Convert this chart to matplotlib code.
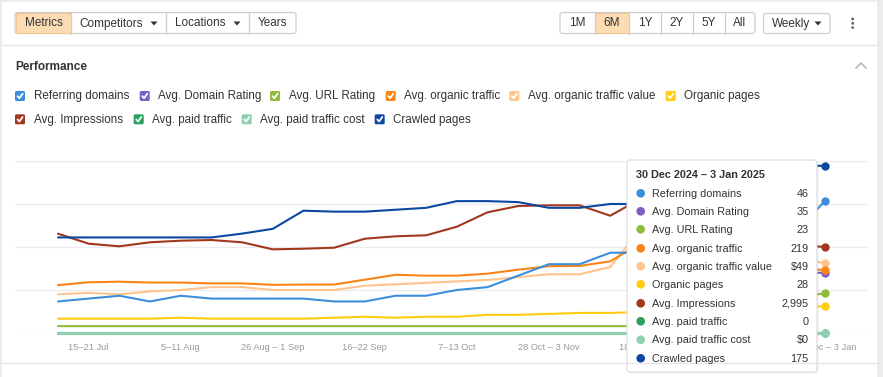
import matplotlib.pyplot as plt
import numpy as np
from matplotlib.patches import FancyBboxPatch, Rectangle, Circle, Polygon

plt.rcParams["font.family"] = ["Liberation Sans", "DejaVu Sans"]

# ---- data -------------------------------------------------------------
weeks = [
    "8–14 Jul", "15–21 Jul", "22–28 Jul", "29 Jul – 4 Aug", "5–11 Aug",
    "12–18 Aug", "19–25 Aug", "26 Aug – 1 Sep", "2–8 Sep", "9–15 Sep",
    "16–22 Sep", "23–29 Sep", "30 Sep – 6 Oct", "7–13 Oct", "14–20 Oct",
    "21–27 Oct", "28 Oct – 3 Nov", "4–10 Nov", "11–17 Nov", "18–24 Nov",
    "25 Nov – 1 Dec", "2–8 Dec", "9–15 Dec", "16–22 Dec", "23–29 Dec",
    "30 Dec – 3 Jan",
]
tooltip_title = "30 Dec 2024 – 3 Jan 2025"

referring_domains = [11, 12, 13, 11, 13, 12, 12, 12, 12, 11, 11, 13, 13,
                     15, 16, 20, 24, 24, 28, 28, 30, 31, 33, 34, 35, 46]
domain_rating = [None] * 22 + [33, 34, 35, 35]
url_rating = [4, 4, 4, 4, 4, 4, 4, 4, 4, 4, 4, 4, 4,
              4, 4, 4, 4, 4, 4, 4, 8, 12, 16, 19, 21, 23]
organic_traffic = [167, 177, 179, 176, 176, 173, 173, 168, 169, 169, 186, 203, 200,
                   200, 207, 221, 233, 234, 250, 314, 300, 280, 260, 240, 228, 219]
traffic_value = [27, 28, 27, 29, 30, 32, 32, 30, 30, 30, 33, 34, 35,
                 36, 37, 39, 41, 41, 46, 73, 68, 62, 57, 53, 51, 49]
organic_pages = [15, 15, 15, 15, 16, 15, 15, 15, 15, 16, 17, 16, 17,
                 17, 19, 19, 20, 21, 21, 22, 24, 25, 26, 27, 27, 28]
impressions = [3464, 3115, 3024, 3164, 3220, 3244, 3164, 2919, 2940, 2975, 3289, 3373, 3408,
               3708, 4210, 4430, 4454, 4454, 4091, 4690, 4400, 4000, 3600, 3300, 3100, 2995]
paid_traffic = [0] * 26
paid_traffic_cost = [0] * 26
crawled_pages = [100, 100, 100, 100, 100, 100, 104, 109, 128, 127, 127, 129, 131,
                 138, 138, 137, 131, 131, 135, 135, 140, 155, 165, 172, 175, 175]

# each metric has its own hidden y axis (0 .. max)
metrics = [
    ("Referring domains", referring_domains, 60, "#3d8fdc", "{:,.0f}"),
    ("Avg. Domain Rating", domain_rating, 100, "#7a5fc6", "{:,.0f}"),
    ("Avg. URL Rating", url_rating, 100, "#8dbb3c", "{:,.0f}"),
    ("Avg. organic traffic", organic_traffic, 600, "#fb8416", "{:,.0f}"),
    ("Avg. organic traffic value", traffic_value, 120, "#ffc48c", "${:,.0f}"),
    ("Organic pages", organic_pages, 180, "#ffcc11", "{:,.0f}"),
    ("Avg. Impressions", impressions, 6000, "#a1381d", "{:,.0f}"),
    ("Avg. paid traffic", paid_traffic, 1, "#2a9f5e", "{:,.0f}"),
    ("Avg. paid traffic cost", paid_traffic_cost, 1, "#8dd1ae", "${:,.0f}"),
    ("Crawled pages", crawled_pages, 180, "#0c47a1", "{:,.0f}"),
]
draw_order = [1, 2, 7, 8, 5, 4, 3, 0, 6, 9]

W, H = 883, 377
fig = plt.figure(figsize=(W / 100, H / 100), dpi=100)
fig.patch.set_facecolor("white")

# ---- chart --------------------------------------------------------------
ax = fig.add_axes([15 / W, (H - 333) / H, 853 / W, 172 / H])
x = np.arange(len(weeks))
pad = 43 / 30.68
ax.set_xlim(-pad, len(weeks) - 1 + pad)
ax.set_ylim(0, 1)
for i in draw_order:
    name, vals, vmax, color, fmt = metrics[i]
    y = np.array([np.nan if v is None else v for v in vals], dtype=float) / vmax
    lw = 2.2 if vmax == 1 else 1.5
    z = draw_order.index(i) * 0.1
    ax.plot(x, y, color=color, lw=lw, zorder=3 + z, solid_capstyle="round", clip_on=False)
    ax.plot(x[-1], y[-1], "o", color=color, ms=6, mec="none", zorder=4 + z, clip_on=False)
for g in [0.25, 0.5, 0.75, 1.0]:
    ax.axhline(g, color="#ececec", lw=1, zorder=1)
ax.axhline(0, color="#e4e4e4", lw=1, zorder=1)
ax.set_xticks(x[1::3])
ax.set_xticklabels(weeks[1::3], fontsize=6.7, color="#9a9a9a")
ax.tick_params(axis="x", length=0, pad=7)
ax.set_yticks([])
for s in ax.spines.values():
    s.set_visible(False)

# ---- page overlay (pixel coordinates) ------------------------------------
ov = fig.add_axes([0, 0, 1, 1], zorder=10)
ov.set_xlim(0, W)
ov.set_ylim(H, 0)
ov.axis("off")
ov.patch.set_alpha(0)

# page frame
ov.add_patch(Rectangle((0, 0), W, 2, fc="#ececec", ec="none"))
ov.add_patch(Rectangle((0, 0), 2, H, fc="#ececec", ec="none"))
ov.add_patch(Rectangle((877, 0), 6, H, fc="#ececec", ec="none"))
ov.plot([2, 877], [44.5, 44.5], color="#e6e6e6", lw=1)
ov.plot([2, 877], [362.5, 362.5], color="#e6e6e6", lw=1)

TXT = "#333333"
ORANGE_FILL = "#fddcb4"
ORANGE_EDGE = "#f3c391"
UI_FS = 8.5


def button_group(x0, edges, labels, centers, selected, y0=12.5, y1=33.5):
    ov.add_patch(FancyBboxPatch((x0, y0), edges[-1] - x0, y1 - y0,
                                boxstyle="round,pad=0,rounding_size=2.5",
                                fc="white", ec="#cfcfcf", lw=0.9))
    left = x0
    for k, right in enumerate(edges):
        if k == selected:
            ov.add_patch(Rectangle((left + 0.5, y0 + 0.5), right - left - 1, y1 - y0 - 1,
                                   fc=ORANGE_FILL, ec=ORANGE_EDGE, lw=0.8))
        if k < len(edges) - 1:
            ov.plot([right, right], [y0, y1], color="#cfcfcf", lw=0.9)
        ov.text(centers[k], (y0 + y1) / 2 + 0.5, labels[k], fontsize=UI_FS, color=TXT,
                ha="center", va="center")
        left = right


def caret(cx, cy):
    ov.add_patch(Polygon([(cx - 3.5, cy - 2), (cx + 3.5, cy - 2), (cx, cy + 2)],
                         closed=True, fc="#333333", ec="none"))


button_group(15, [71, 166, 249, 296], ["Metrics", "Competitors", "Locations", "Years"],
             [43.5, 111, 200.5, 272.5], selected=0)
caret(154, 23.5)
caret(237, 23.5)
button_group(560, [594.5, 629, 661, 692.5, 725, 755], ["1M", "6M", "1Y", "2Y", "5Y", "All"],
             [577.5, 611.5, 645, 676.5, 708.5, 740], selected=1)
ov.add_patch(FancyBboxPatch((763.5, 13.5), 66.5, 20, boxstyle="round,pad=0,rounding_size=2.5",
                            fc="white", ec="#cfcfcf", lw=0.9))
ov.text(791, 24, "Weekly", fontsize=UI_FS, color=TXT, ha="center", va="center")
caret(818, 23.5)
for dy in (19, 23.3, 27.6):
    ov.add_patch(Circle((852.7, dy), 1.4, fc="#666666", ec="none"))

ov.text(15.5, 67, "Performance", fontsize=8.5, fontweight="bold", color=TXT, va="center")
ov.plot([856, 861, 866], [68, 63, 68], color="#b5b5b5", lw=1.1)

# legend with check boxes
legend_pos = [
    (15, 96), (139.7, 96), (270, 96), (385.7, 96), (509.3, 96), (665.7, 96),
    (15, 119.3), (133.7, 119.3), (241.7, 119.3), (374.7, 119.3),
]
for (lx, ly), (name, vals, vmax, color, fmt) in zip(legend_pos, metrics):
    ov.add_patch(FancyBboxPatch((lx, ly - 5), 10, 10, boxstyle="round,pad=0,rounding_size=1.5",
                                fc=color, ec="none"))
    ov.plot([lx + 2.6, lx + 4.4, lx + 7.6], [ly + 0.2, ly + 2.2, ly - 2.3],
            color="white", lw=1.3, solid_capstyle="round", solid_joinstyle="round")
    ov.text(lx + 18.7, ly + 0.5, name, fontsize=8.4, color=TXT, va="center")

# tooltip for the last week
ov.add_patch(FancyBboxPatch((628.5, 161.5), 190, 212, boxstyle="round,pad=0,rounding_size=3",
                            fc="#000000", ec="none", alpha=0.06))
ov.add_patch(FancyBboxPatch((627, 160), 190, 212, boxstyle="round,pad=0,rounding_size=3",
                            fc="white", ec="#dcdcdc", lw=0.8))
ov.text(636, 174.5, tooltip_title, fontsize=7.8, fontweight="bold", color=TXT, va="center")
row_y = [193.3, 211.3, 229.3, 248.3, 266.3, 284.3, 303.3, 321.3, 339.7, 358.3]
for ry, (name, vals, vmax, color, fmt) in zip(row_y, metrics):
    ov.add_patch(Circle((640.7, ry), 4.3, fc=color, ec="none"))
    ov.text(652.3, ry + 0.3, name, fontsize=7.8, color=TXT, va="center")
    ov.text(808.5, ry + 0.3, fmt.format(vals[-1]), fontsize=7.8, color=TXT,
            va="center", ha="right")

fig.savefig("out.png", dpi=100)
